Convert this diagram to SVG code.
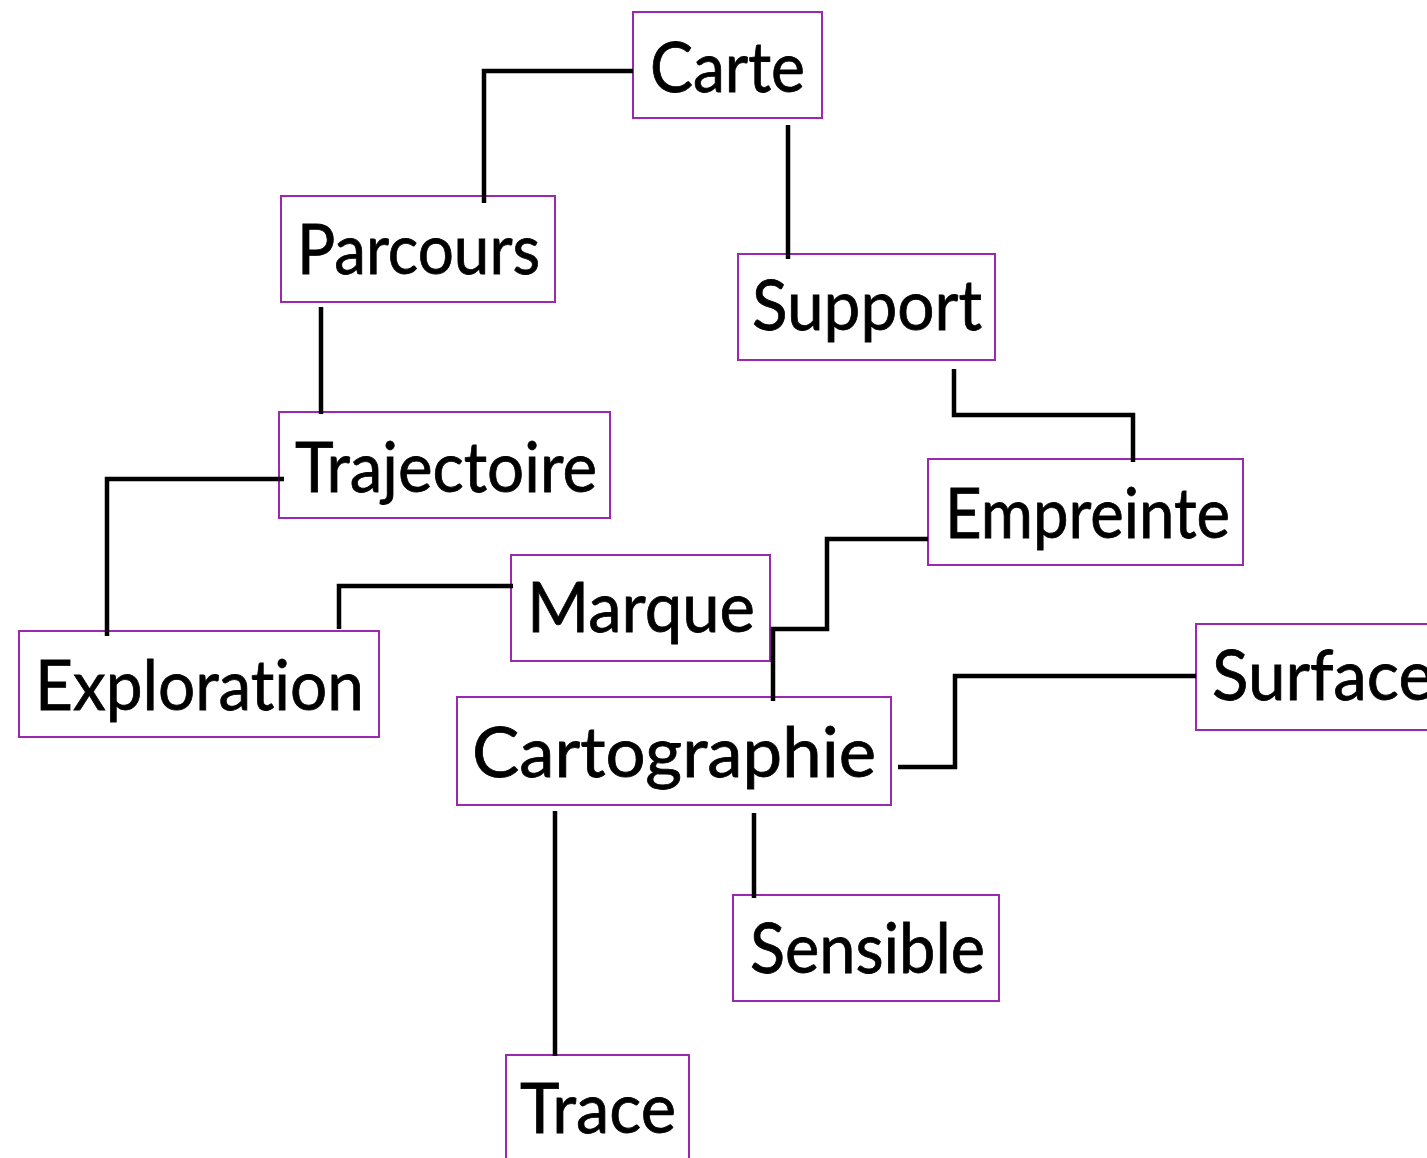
<svg xmlns="http://www.w3.org/2000/svg" width="1427" height="1158" viewBox="0 0 1427 1158">
<style>
.box{fill:#fff;stroke:#9c27b0;stroke-width:2}
.lbl{font-family:"Lato","Noto Sans",sans-serif;font-size:70px;fill:#000;font-variant-ligatures:none;stroke:#000;stroke-width:0.8}
.con{fill:none;stroke:#000;stroke-width:4.5}
</style>
<rect width="1427" height="1158" fill="#fff"/>
<g id="carte"><rect class="box" x="633" y="12" width="189" height="106"/><text class="lbl" x="650" y="92" textLength="155" lengthAdjust="spacingAndGlyphs">Carte</text></g>
<g id="parcours"><rect class="box" x="281" y="196" width="274" height="106"/><text class="lbl" x="297" y="274" textLength="243" lengthAdjust="spacingAndGlyphs">Parcours</text></g>
<g id="support"><rect class="box" x="738" y="254" width="257" height="106"/><text class="lbl" x="752" y="330" textLength="230" lengthAdjust="spacingAndGlyphs">Support</text></g>
<g id="trajectoire"><rect class="box" x="279" y="412" width="331" height="106"/><text class="lbl" x="295" y="492" textLength="302" lengthAdjust="spacingAndGlyphs">Trajectoire</text></g>
<g id="empreinte"><rect class="box" x="928" y="459" width="315" height="106"/><text class="lbl" x="945" y="538" textLength="285" lengthAdjust="spacingAndGlyphs">Empreinte</text></g>
<g id="marque"><rect class="box" x="511" y="555" width="259" height="106"/><text class="lbl" x="527" y="632" textLength="228" lengthAdjust="spacingAndGlyphs">Marque</text></g>
<g id="exploration"><rect class="box" x="19" y="631" width="360" height="106"/><text class="lbl" x="35" y="710" textLength="329" lengthAdjust="spacingAndGlyphs">Exploration</text></g>
<g id="surface"><rect class="box" x="1196" y="624" width="240" height="106"/><text class="lbl" x="1212" y="700" textLength="222" lengthAdjust="spacingAndGlyphs">Surface</text></g>
<g id="cartographie"><rect class="box" x="457" y="697" width="434" height="108"/><text class="lbl" x="472" y="777" textLength="404" lengthAdjust="spacingAndGlyphs">Cartographie</text></g>
<g id="sensible"><rect class="box" x="733" y="895" width="266" height="106"/><text class="lbl" x="750" y="973" textLength="235" lengthAdjust="spacingAndGlyphs">Sensible</text></g>
<g id="trace"><rect class="box" x="506" y="1055" width="183" height="110"/><text class="lbl" x="520" y="1133" textLength="156" lengthAdjust="spacingAndGlyphs">Trace</text></g>
<g id="connectors">
<path class="con" d="M633 71H484V203"/>
<path class="con" d="M788 125V259"/>
<path class="con" d="M321 307V414"/>
<path class="con" d="M954 369V415H1133V462"/>
<path class="con" d="M284 479H107V636"/>
<path class="con" d="M339 629V586H513"/>
<path class="con" d="M928 539H827V629H773V701"/>
<path class="con" d="M898 767H955V676H1196"/>
<path class="con" d="M555 811V1056"/>
<path class="con" d="M754 813V898"/>
</g>
</svg>
